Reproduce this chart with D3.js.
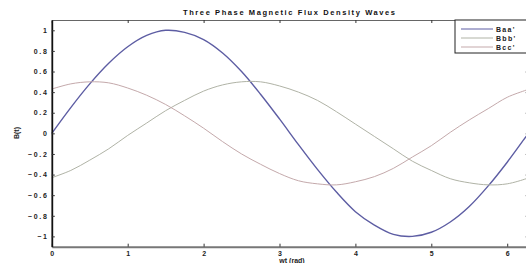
<!DOCTYPE html>
<html>
<head>
<meta charset="utf-8">
<script src="https://cdn.jsdelivr.net/npm/d3@7"></script>
<style>
  body { margin: 0; background: #fff; }
  svg { display: block; font-family: "Liberation Sans", Arial, sans-serif; }
</style>
</head>
<body>
<svg id="chart" width="526" height="263"></svg>
<script>
// wt samples (rad), step 0.25 plus 2*pi at the end
const wt = [0, 0.25, 0.5, 0.75, 1, 1.25, 1.5, 1.75, 2, 2.25, 2.5, 2.75, 3, 3.25,
  3.5, 3.75, 4, 4.25, 4.5, 4.75, 5, 5.25, 5.5, 5.75, 6, 6.25, 6.283];

const baa = [0, 0.25, 0.48, 0.68, 0.84, 0.95, 1.0, 0.98, 0.91, 0.78, 0.6, 0.38, 0.14,
  -0.11, -0.35, -0.57, -0.76, -0.89, -0.98, -1.0, -0.96, -0.86, -0.71, -0.51, -0.28, -0.03, 0];
const bbb = [-0.43, -0.36, -0.26, -0.15, -0.02, 0.1, 0.22, 0.32, 0.41, 0.47, 0.5, 0.5, 0.46,
  0.4, 0.32, 0.21, 0.09, -0.03, -0.15, -0.27, -0.36, -0.44, -0.48, -0.5, -0.49, -0.44, -0.43];
const bcc = [0.43, 0.48, 0.5, 0.49, 0.44, 0.37, 0.28, 0.17, 0.05, -0.08, -0.2, -0.3, -0.39,
  -0.46, -0.49, -0.5, -0.47, -0.42, -0.34, -0.23, -0.12, 0.01, 0.13, 0.24, 0.35, 0.42, 0.43];

const xTicks = [0, 1, 2, 3, 4, 5, 6];
const yTicks = [-1, -0.8, -0.6, -0.4, -0.2, 0, 0.2, 0.4, 0.6, 0.8, 1];

const series = [
  { name: "Baa'", values: baa, color: "#5d5da3", width: 1.4 },
  { name: "Bbb'", values: bbb, color: "#b0b3a6", width: 1 },
  { name: "Bcc'", values: bcc, color: "#c4a9ab", width: 1 }
];

const svg = d3.select("#chart");
const plotL = 51.8, plotR = 528.7, plotT = 20, plotB = 246.7;

const x = d3.scaleLinear().domain([0, 2 * Math.PI]).range([plotL, plotR]);
const y = d3.scaleLinear().domain([-1.1, 1.1]).range([plotB, plotT]);

const line = d3.line()
  .x((d, i) => x(wt[i]))
  .y(d => y(d))
  .curve(d3.curveCatmullRom);

svg.append("g")
  .selectAll("path")
  .data(series)
  .join("path")
  .attr("d", d => line(d.values))
  .attr("fill", "none")
  .attr("stroke", d => d.color)
  .attr("stroke-width", d => d.width);

// MATLAB style box with inward ticks
const tickFmt = d => d3.format("")(d);
const axB = svg.append("g").attr("transform", `translate(0,${plotB})`)
  .call(d3.axisBottom(x).tickValues(xTicks).tickSizeInner(-3).tickSizeOuter(0).tickPadding(4).tickFormat(tickFmt));
const axT = svg.append("g").attr("transform", `translate(0,${plotT})`)
  .call(d3.axisTop(x).tickValues(xTicks).tickSizeInner(-3).tickSizeOuter(0).tickFormat(""));
const axL = svg.append("g").attr("transform", `translate(${plotL},0)`)
  .call(d3.axisLeft(y).tickValues(yTicks).tickSizeInner(-3).tickSizeOuter(0).tickPadding(3).tickFormat(tickFmt));
const axR = svg.append("g").attr("transform", `translate(${plotR},0)`)
  .call(d3.axisRight(y).tickValues(yTicks).tickSizeInner(-3).tickSizeOuter(0).tickFormat(""));

[axB, axT, axL, axR].forEach(g => {
  g.selectAll("text").attr("font-size", 7).attr("font-weight", "bold").attr("fill", "#222")
    .attr("font-family", "'Liberation Sans', Arial, sans-serif");
  g.selectAll("line").attr("stroke", "#333");
});
axL.selectAll("text").attr("letter-spacing", 1.8);
axB.select(".domain").attr("stroke", "#777").attr("stroke-width", 2);
axL.select(".domain").attr("stroke", "#111").attr("stroke-width", 1.8);
axT.select(".domain").attr("stroke", "#666").attr("stroke-width", 1.2);
axR.select(".domain").attr("stroke", "#666");

svg.append("text")
  .attr("x", 183).attr("y", 15)
  .attr("textLength", 212).attr("lengthAdjust", "spacing")
  .attr("font-size", 7.5).attr("font-weight", "bold").attr("fill", "#111")
  .text("Three Phase Magnetic Flux Density Waves");

svg.append("text")
  .attr("transform", "translate(19,133) rotate(-90)")
  .attr("text-anchor", "middle")
  .attr("font-size", 7).attr("font-weight", "bold").attr("fill", "#222")
  .text("B(t)");

svg.append("text")
  .attr("x", 292).attr("y", 263)
  .attr("text-anchor", "middle")
  .attr("font-size", 7).attr("font-weight", "bold").attr("fill", "#222")
  .text("wt (rad)");

// legend
const lg = svg.append("g").attr("transform", "translate(455,20)");
lg.append("rect")
  .attr("width", 80).attr("height", 33)
  .attr("fill", "#fff").attr("stroke", "#222").attr("stroke-width", 1);
const item = lg.selectAll("g.item")
  .data(series)
  .join("g")
  .attr("class", "item")
  .attr("transform", (d, i) => `translate(0,${9 + i * 9})`);
item.append("line")
  .attr("x1", 6).attr("x2", 38)
  .attr("stroke", d => d.color).attr("stroke-width", 1);
item.append("text")
  .attr("x", 41).attr("y", 2.5)
  .attr("letter-spacing", 1.3)
  .attr("font-size", 7).attr("font-weight", "bold").attr("fill", "#222")
  .text(d => d.name);
</script>
</body>
</html>
